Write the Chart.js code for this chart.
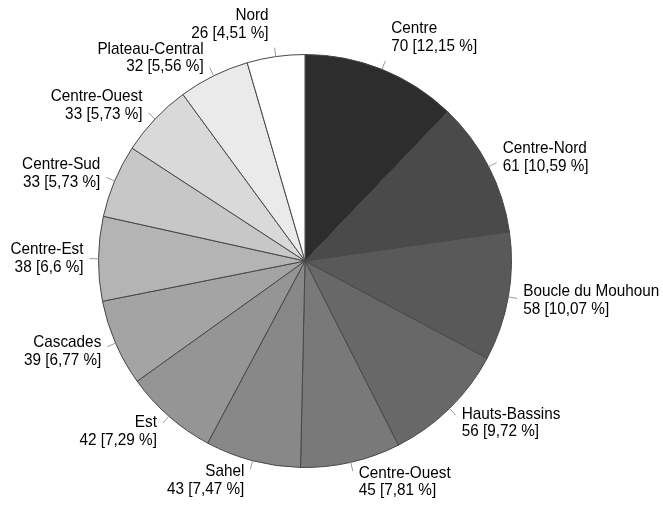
<!DOCTYPE html>
<html>
<head>
<meta charset="utf-8">
<script src="https://cdn.jsdelivr.net/npm/chart.js@4"></script>
<style>
  html, body { margin: 0; padding: 0; background: #fff; }
  #wrap { width: 663px; height: 505px; }
</style>
</head>
<body>
<div id="wrap"><canvas id="pie" width="663" height="505"></canvas></div>
<script>
const regions = ['Centre', 'Centre-Nord', 'Boucle du Mouhoun', 'Hauts-Bassins', 'Centre-Ouest', 'Sahel',
  'Est', 'Cascades', 'Centre-Est', 'Centre-Sud', 'Centre-Ouest', 'Plateau-Central', 'Nord'];
const counts = [70, 61, 58, 56, 45, 43, 42, 39, 38, 33, 33, 32, 26];
const shares = ['12,15', '10,59', '10,07', '9,72', '7,81', '7,47', '7,29', '6,77', '6,6', '5,73', '5,73', '5,56', '4,51'];
const greys = ['#2d2d2d', '#4a4a4a', '#595959', '#686868', '#797979', '#888888', '#959595',
  '#a4a4a4', '#b4b4b4', '#c7c7c7', '#d9d9d9', '#eaeaea', '#ffffff'];

// short leader ticks + two-line labels outside the pie
const outsideLabels = {
  id: 'outsideLabels',
  afterDatasetsDraw(chart) {
    const ctx = chart.ctx;
    const meta = chart.getDatasetMeta(0);
    const squeeze = 0.9; // source font is a bit condensed
    const lh = 17.5;
    ctx.save();
    ctx.font = '17px "Liberation Sans", Arial, sans-serif';
    ctx.fillStyle = '#000';
    ctx.textBaseline = 'middle';
    meta.data.forEach((arc, i) => {
      const a = (arc.startAngle + arc.endAngle) / 2;
      const c = Math.cos(a), s = Math.sin(a);
      const r = arc.outerRadius;
      const tx = arc.x + c * (r + 9);
      const ty = arc.y + s * (r + 9);
      ctx.strokeStyle = '#9a9a9a';
      ctx.lineWidth = 1;
      ctx.beginPath();
      ctx.moveTo(arc.x + c * r, arc.y + s * r);
      ctx.lineTo(tx, ty);
      ctx.stroke();

      const l1 = regions[i];
      const l2 = counts[i] + ' [' + shares[i] + ' %]';
      const w1 = ctx.measureText(l1).width * squeeze;
      const w2 = ctx.measureText(l2).width * squeeze;
      // vertical shift: labels near the top sit fully above their tick
      const shift = s < -0.92 ? -(lh + 6) : s * 11;
      const cy = ty + shift;
      if (c >= 0) {
        ctx.textAlign = 'left';
        ctx.fillText(l1, tx + 6, cy - lh / 2, w1);
        ctx.fillText(l2, tx + 6, cy + lh / 2, w2);
      } else {
        ctx.textAlign = 'right';
        ctx.fillText(l1, tx - 6, cy - lh / 2, w1);
        ctx.fillText(l2, tx - 6, cy + lh / 2, w2);
      }
    });
    ctx.restore();
  }
};

new Chart(document.getElementById('pie'), {
  type: 'pie',
  data: {
    labels: regions,
    datasets: [{
      data: counts,
      backgroundColor: greys,
      borderColor: '#474747',
      borderWidth: 1
    }]
  },
  options: {
    responsive: false,
    animation: false,
    layout: { padding: { left: 98, right: 151, top: 54, bottom: 37 } },
    plugins: {
      legend: { display: false },
      tooltip: { enabled: false }
    }
  },
  plugins: [outsideLabels]
});
</script>
</body>
</html>
